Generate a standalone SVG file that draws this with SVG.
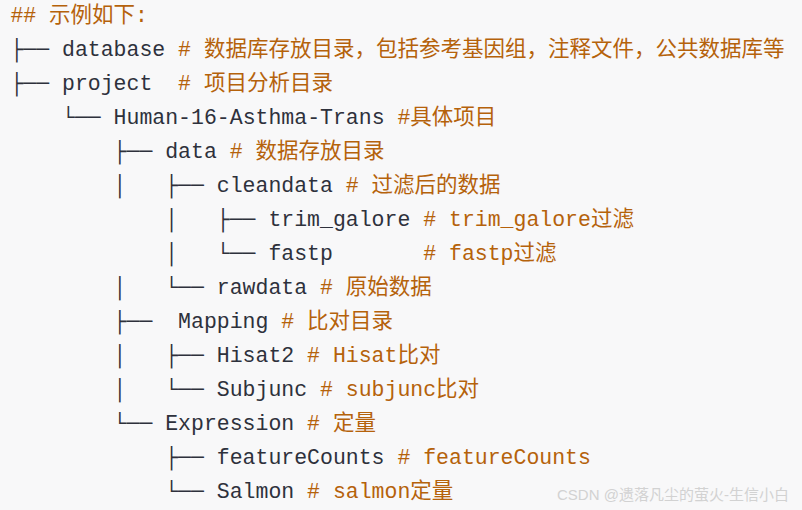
<svg xmlns="http://www.w3.org/2000/svg" width="802" height="510" viewBox="0 0 802 510" xml:space="preserve">
<style>
text{font-family:"Liberation Mono","DejaVu Sans Mono","Noto Sans CJK SC",monospace;font-size:21.5px;white-space:pre}
.d{fill:#2e313c}
.c{fill:#b5620b}
.wm{font-family:"Liberation Sans","Noto Sans CJK SC",sans-serif;font-size:15px;fill:#d2d2d2}
</style>
<rect x="0" y="0" width="802" height="510" fill="#f8f8f9"/>
<g id="code">
<text y="21.5"><tspan class="c" x="10.4">## 示例如下:</tspan></text>
<text y="55.5"><tspan class="d" x="10.4">├── database</tspan><tspan class="c" x="178.1"># 数据库存放目录，包括参考基因组，注释文件，公共数据库等</tspan></text>
<text y="89.5"><tspan class="d" x="10.4">├── project</tspan><tspan class="c" x="178.1"># 项目分析目录</tspan></text>
<text y="123.5"><tspan class="d" x="62">└── Human-16-Asthma-Trans</tspan><tspan class="c" x="397.4">#具体项目</tspan></text>
<text y="157.5"><tspan class="d" x="113.6">├── data</tspan><tspan class="c" x="229.7"># 数据存放目录</tspan></text>
<text y="191.5"><tspan class="d" x="113.6">│</tspan><tspan class="d" x="165.2">├── cleandata</tspan><tspan class="c" x="345.8"># 过滤后的数据</tspan></text>
<text y="225.5"><tspan class="d" x="165.2">│</tspan><tspan class="d" x="216.8">├── trim_galore</tspan><tspan class="c" x="423.2"># trim_galore过滤</tspan></text>
<text y="259.5"><tspan class="d" x="165.2">│</tspan><tspan class="d" x="216.8">└── fastp</tspan><tspan class="c" x="423.2"># fastp过滤</tspan></text>
<text y="293.5"><tspan class="d" x="113.6">│</tspan><tspan class="d" x="165.2">└── rawdata</tspan><tspan class="c" x="320"># 原始数据</tspan></text>
<text y="327.5"><tspan class="d" x="113.6">├──</tspan><tspan class="d" x="178.1">Mapping</tspan><tspan class="c" x="281.3"># 比对目录</tspan></text>
<text y="361.5"><tspan class="d" x="113.6">│</tspan><tspan class="d" x="165.2">├── Hisat2</tspan><tspan class="c" x="307.1"># Hisat比对</tspan></text>
<text y="395.5"><tspan class="d" x="113.6">│</tspan><tspan class="d" x="165.2">└── Subjunc</tspan><tspan class="c" x="320"># subjunc比对</tspan></text>
<text y="429.5"><tspan class="d" x="113.6">└── Expression</tspan><tspan class="c" x="307.1"># 定量</tspan></text>
<text y="463.5"><tspan class="d" x="165.2">├── featureCounts</tspan><tspan class="c" x="397.4"># featureCounts</tspan></text>
<text y="497.5"><tspan class="d" x="165.2">└── Salmon</tspan><tspan class="c" x="307.1"># salmon定量</tspan></text>
</g>
<text class="wm" x="557" y="500">CSDN @遗落凡尘的萤火-生信小白</text>
</svg>
